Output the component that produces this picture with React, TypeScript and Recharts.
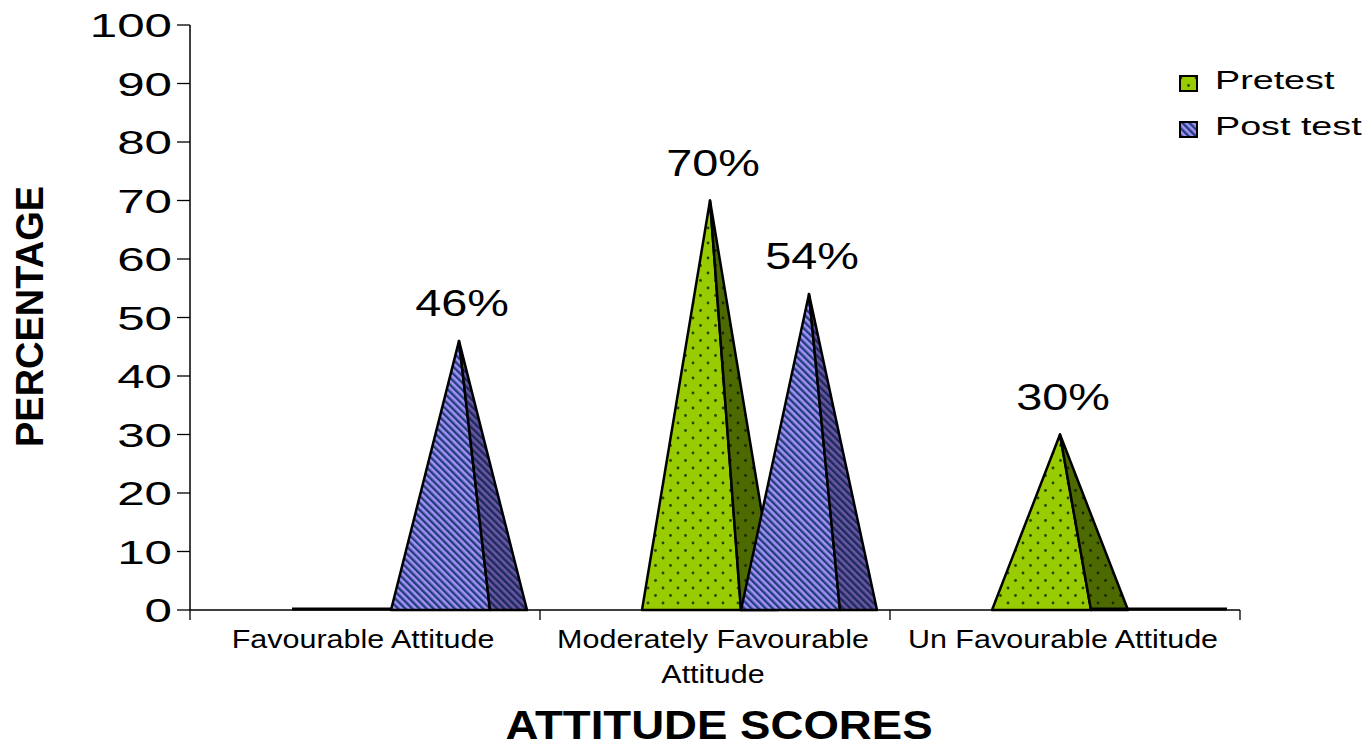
import { BarChart, Bar, XAxis, YAxis, Legend, LabelList, Label } from 'recharts';

const categories = ['Favourable Attitude', 'Moderately Favourable Attitude', 'Un Favourable Attitude'];
const pretest = [0, 70, 30];
const postTest = [46, 54, 0];
const yTicks = [0, 10, 20, 30, 40, 50, 60, 70, 80, 90, 100];

const series = [
  { key: 'pretest', name: 'Pretest', front: 'url(#preFront)', side: 'url(#preSide)' },
  { key: 'posttest', name: 'Post test', front: 'url(#postFront)', side: 'url(#postSide)' },
];

const data = categories.map((name, i) => ({ name, pretest: pretest[i], posttest: postTest[i] }));

const W = 1370;
const H = 746;
const MARGIN = { top: 25, right: 130, bottom: 36, left: 0 };
const Y_AXIS_W = 190;
const BAND = (W - MARGIN.left - MARGIN.right - Y_AXIS_W) / categories.length;
const FONT = '"Liberation Sans", Arial, sans-serif';

// pseudo-3D pyramid: front face plus a shaded side face receding to the right
const DEPTH = 37;
const SHIFT = 26;

const wrap = (label: string, max = 22) => {
  const lines: string[] = [];
  let cur = '';
  label.split(' ').forEach((w) => {
    const next = cur ? cur + ' ' + w : w;
    if (next.length > max && cur) {
      lines.push(cur);
      cur = w;
    } else cur = next;
  });
  if (cur) lines.push(cur);
  return lines;
};

const pyramid = (s: typeof series[number]) => (props: any) => {
  const { x, y, width, height } = props;
  const left = x + SHIFT;
  const right = left + width;
  const base = y + height;
  if (!height) {
    return <line x1={left} x2={right + DEPTH} y1={base - 1} y2={base - 1} stroke="#000" strokeWidth={3} />;
  }
  const apexX = left + (width + DEPTH) / 2;
  return (
    <g>
      <polygon
        points={`${left},${base} ${apexX},${y} ${right},${base}`}
        fill={s.front}
        stroke="#000"
        strokeWidth={2.5}
        strokeLinejoin="round"
      />
      <polygon
        points={`${right},${base} ${apexX},${y} ${right + DEPTH},${base}`}
        fill={s.side}
        stroke="#000"
        strokeWidth={2.5}
        strokeLinejoin="round"
      />
    </g>
  );
};

const valueLabel = (props: any) => {
  const { x, y, width, value } = props;
  if (!value) return null;
  const cx = x + SHIFT + (width + DEPTH) / 2 + 3;
  return (
    <text
      transform={`translate(${cx},${y - 25}) scale(1.3,1)`}
      textAnchor="middle"
      fontSize={36}
      fontFamily={FONT}
      fill="#000"
    >
      {value}%
    </text>
  );
};

const PercentTick = ({ x, y, payload }: any) => (
  <text
    transform={`translate(${x - 5},${y + 12}) scale(1.45,1)`}
    textAnchor="end"
    fontSize={34}
    fontFamily={FONT}
    fill="#000"
  >
    {payload.value}
  </text>
);

const CategoryTick = ({ x, y, payload, index }: any) => {
  const lines = wrap(payload.value);
  return (
    <g>
      <line x1={x - BAND / 2} x2={x - BAND / 2} y1={y} y2={y + 10} stroke="#000" strokeWidth={1.3} />
      {index === categories.length - 1 && (
        <line x1={x + BAND / 2} x2={x + BAND / 2} y1={y} y2={y + 10} stroke="#000" strokeWidth={1.3} />
      )}
      <text
        transform={`translate(${x - 2},${y}) scale(1.22,1)`}
        textAnchor="middle"
        fontSize={25}
        fontFamily={FONT}
        fill="#000"
      >
        {lines.map((l, i) => (
          <tspan key={i} x={0} y={38 + i * 35}>
            {l}
          </tspan>
        ))}
      </text>
    </g>
  );
};

const LegendBox = () => (
  <svg width={200} height={100}>
    {series.map((s, i) => (
      <g key={s.key} transform={`translate(0,${i * 46})`}>
        <rect x={2} y={16} width={17} height={15} fill={s.front} stroke="#000" strokeWidth={2} />
        <text transform="translate(37,29) scale(1.45,1)" fontSize={26} fontFamily={FONT} fill="#000">
          {s.name}
        </text>
      </g>
    ))}
  </svg>
);

export default function App() {
  return (
    <div style={{ position: 'absolute', left: 0, top: 0, width: W, height: H, background: '#fff' }}>
      <BarChart width={W} height={H} data={data} margin={MARGIN} barGap={0}>
        <defs>
          <pattern id="preFront" width={15} height={15} patternUnits="userSpaceOnUse">
            <rect width={15} height={15} fill="#99cc00" />
            <circle cx={3} cy={3} r={1.4} fill="#1f4a00" />
            <circle cx={10.5} cy={10.5} r={1.4} fill="#1f4a00" />
          </pattern>
          <pattern id="preSide" width={15} height={15} patternUnits="userSpaceOnUse">
            <rect width={15} height={15} fill="#4d6a00" />
            <circle cx={3} cy={3} r={1.4} fill="#1a2800" />
            <circle cx={10.5} cy={10.5} r={1.4} fill="#1a2800" />
          </pattern>
          <pattern id="postFront" width={5} height={5} patternUnits="userSpaceOnUse" patternTransform="rotate(-45)">
            <rect width={5} height={5} fill="#a48ff8" />
            <rect width={2.4} height={5} fill="#1f3f78" />
          </pattern>
          <pattern id="postSide" width={5} height={5} patternUnits="userSpaceOnUse" patternTransform="rotate(-45)">
            <rect width={5} height={5} fill="#6a56a6" />
            <rect width={2.4} height={5} fill="#1c2a58" />
          </pattern>
        </defs>
        <XAxis
          dataKey="name"
          interval={0}
          height={100}
          tickLine={false}
          tickSize={0}
          tickMargin={0}
          axisLine={{ stroke: '#000', strokeWidth: 1.5 }}
          tick={<CategoryTick />}
        >
          <Label
            content={(p: any) => {
              const { x, y, width, height } = p.viewBox;
              return (
                <text
                  transform={`translate(${x + width / 2 + 4},${y + height + 29}) scale(1.14,1)`}
                  textAnchor="middle"
                  fontSize={40}
                  fontWeight="bold"
                  fontFamily={FONT}
                  fill="#000"
                >
                  ATTITUDE SCORES
                </text>
              );
            }}
          />
        </XAxis>
        <YAxis
          width={Y_AXIS_W}
          domain={[0, 100]}
          ticks={yTicks}
          interval={0}
          tickSize={13}
          tickMargin={0}
          tickLine={{ stroke: '#000', strokeWidth: 1.3 }}
          axisLine={{ stroke: '#000', strokeWidth: 1.5 }}
          tick={<PercentTick />}
        >
          <Label
            content={(p: any) => {
              const { y, height } = p.viewBox;
              return (
                <text
                  transform={`translate(43,${y + height / 2 - 1}) rotate(-90)`}
                  textAnchor="middle"
                  fontSize={38}
                  fontWeight="bold"
                  fontFamily={FONT}
                  fill="#000"
                >
                  PERCENTAGE
                </text>
              );
            }}
          />
        </YAxis>
        <Legend
          layout="vertical"
          align="center"
          verticalAlign="middle"
          wrapperStyle={{ left: 1178, top: 60, width: 200 }}
          content={<LegendBox />}
        />
        {series.map((s) => (
          <Bar key={s.key} dataKey={s.key} name={s.name} barSize={99} shape={pyramid(s)} isAnimationActive={false}>
            <LabelList dataKey={s.key} content={valueLabel} />
          </Bar>
        ))}
      </BarChart>
    </div>
  );
}
